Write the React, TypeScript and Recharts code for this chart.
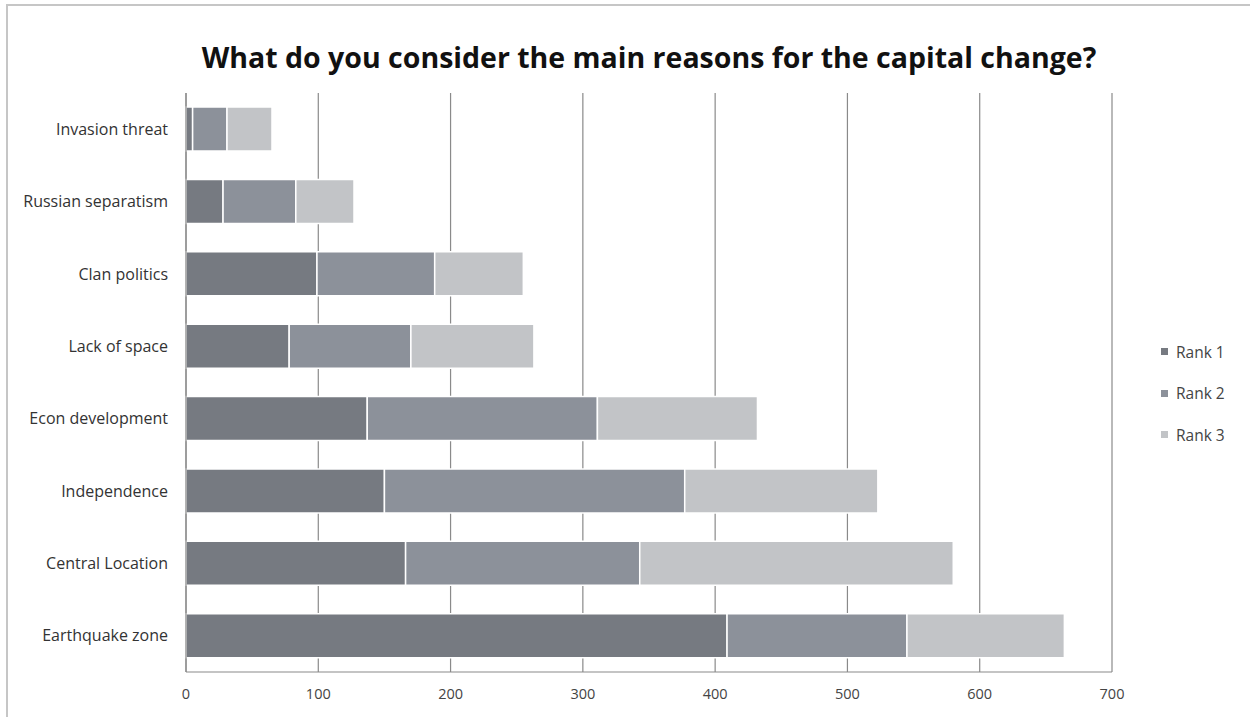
import { BarChart, Bar, XAxis, YAxis, CartesianGrid } from "recharts"

const reasons = [
  "Invasion threat",
  "Russian separatism",
  "Clan politics",
  "Lack of space",
  "Econ development",
  "Independence",
  "Central Location",
  "Earthquake zone",
]

const rank1 = [5, 28, 99, 78, 137, 150, 166, 409]
const rank2 = [26, 55, 89, 92, 174, 227, 177, 136]
const rank3 = [34, 44, 67, 93, 121, 146, 237, 119]

const xTicks = [0, 100, 200, 300, 400, 500, 600, 700]

const seriesNames = ["Rank 1", "Rank 2", "Rank 3"]
const seriesColors = ["#767a81", "#8c919a", "#c2c4c7"]

const data = reasons.map((name, i) => ({
  name,
  r1: rank1[i],
  r2: rank2[i],
  r3: rank3[i],
}))

const font = "'Open Sans', sans-serif"

export default function App() {
  return (
    <div style={{ position: "absolute", left: 0, top: 0, width: 1250, height: 717, background: "#fff", fontFamily: font }}>
      {/* outer frame */}
      <div
        style={{
          position: "absolute",
          left: 6,
          top: 4,
          width: 1244,
          height: 713,
          borderTop: "2px solid #c6c6c6",
          borderLeft: "2px solid #c6c6c6",
        }}
      />
      <div
        style={{
          position: "absolute",
          left: 186,
          width: 926,
          top: 37,
          lineHeight: "40px",
          textAlign: "center",
          fontSize: 28.5,
          fontWeight: 700,
          color: "#111",
          whiteSpace: "nowrap",
        }}
      >
        What do you consider the main reasons for the capital change?
      </div>

      <BarChart
        width={1250}
        height={717}
        data={data}
        layout="vertical"
        margin={{ top: 93, right: 138, bottom: 0, left: 0 }}
        barSize={44}
      >
        <CartesianGrid horizontal={false} stroke="#8a8a8a" strokeWidth={1.2} />
        <XAxis
          type="number"
          domain={[0, 700]}
          ticks={xTicks}
          interval={0}
          height={45}
          tickSize={0}
          tickMargin={17}
          axisLine={{ stroke: "#8a8a8a", strokeWidth: 1.2 }}
          tick={{ fontSize: 14.5, fill: "#444", fontFamily: font }}
        />
        <YAxis
          type="category"
          dataKey="name"
          width={186}
          tickSize={0}
          tickMargin={18}
          axisLine={{ stroke: "#8a8a8a", strokeWidth: 1.2 }}
          tick={{ fontSize: 16, fill: "#333", fontFamily: font }}
        />
        <Bar dataKey="r1" stackId="a" fill={seriesColors[0]} stroke="#fff" strokeWidth={1.5} isAnimationActive={false} />
        <Bar dataKey="r2" stackId="a" fill={seriesColors[1]} stroke="#fff" strokeWidth={1.5} isAnimationActive={false} />
        <Bar dataKey="r3" stackId="a" fill={seriesColors[2]} stroke="#fff" strokeWidth={1.5} isAnimationActive={false} />
      </BarChart>

      {/* legend */}
      <div style={{ position: "absolute", left: 1161, top: 331 }}>
        {seriesNames.map((s, i) => (
          <div key={s} style={{ display: "flex", alignItems: "center", height: 41.5 }}>
            <span style={{ display: "inline-block", width: 7, height: 7, background: seriesColors[i], marginRight: 8 }} />
            <span style={{ fontSize: 15.5, color: "#444" }}>{s}</span>
          </div>
        ))}
      </div>
    </div>
  )
}
